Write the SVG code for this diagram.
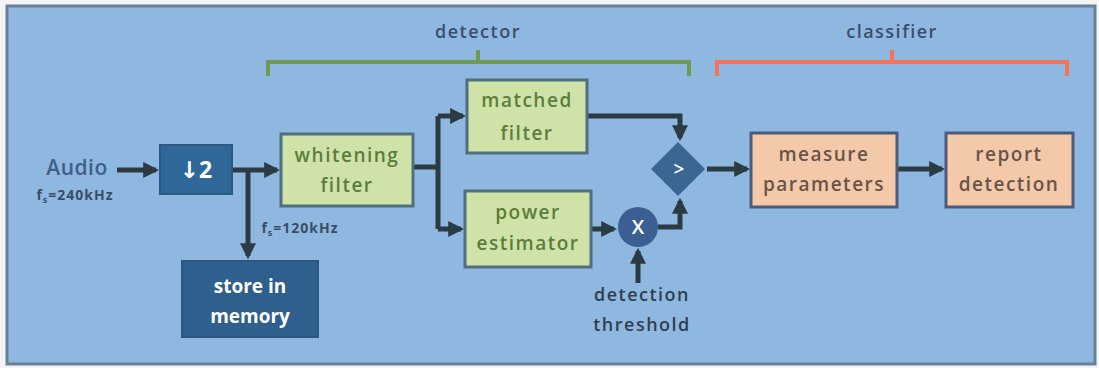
<svg xmlns="http://www.w3.org/2000/svg" width="1099" height="368" viewBox="0 0 1099 368">
<defs>
<style>
text{font-family:"Open Sans","DejaVu Sans",sans-serif;text-anchor:middle;font-weight:600}
.g rect{fill:#cfe3a8;stroke:#4f6f7f;stroke-width:3}
.o rect{fill:#f3c9a9;stroke:#4d5a7a;stroke-width:3}
.gt{font-size:19px;fill:#5b7e3a;letter-spacing:1.5px}
.ot{font-size:19px;fill:#6a5448;letter-spacing:1.5px}
.wt{font-size:19px;fill:#ffffff;font-weight:bold}
.lab{font-size:18px;fill:#3a4e6e;letter-spacing:1.5px}
.sm{font-size:14px;fill:#3a4e66;font-weight:bold;letter-spacing:1px}
.c{fill:none;stroke:#2c3a44;stroke-width:5}
</style>
<marker id="ah" viewBox="0 0 10 10" refX="8" refY="5" markerWidth="3.2" markerHeight="3.2" orient="auto" markerUnits="strokeWidth">
<path d="M0,0L10,5L0,10z" fill="#2c3a44"/>
</marker>
</defs>
<rect x="0" y="0" width="1099" height="368" fill="#f2f4f6"/>
<rect x="7" y="6" width="1088" height="358" fill="#8fb8e0" stroke="#6c7f98" stroke-width="3"/>

<g id="detector-bracket">
<path d="M268,76V62H689V76M478,62V50" fill="none" stroke="#6f9a52" stroke-width="4"/>
<text class="lab" x="478" y="38">detector</text>
</g>
<g id="classifier-bracket">
<path d="M717,76V62H1067V76M892,62V50" fill="none" stroke="#f2745a" stroke-width="4"/>
<text class="lab" x="892" y="38">classifier</text>
</g>

<g id="connectors">
<path class="c" d="M117,170H156" marker-end="url(#ah)"/>
<path class="c" d="M232,170H277" marker-end="url(#ah)"/>
<path class="c" d="M248,170V256" marker-end="url(#ah)"/>
<path class="c" d="M413,167H438M438,116V229"/>
<path class="c" d="M438,116H463" marker-end="url(#ah)"/>
<path class="c" d="M438,229H461" marker-end="url(#ah)"/>
<path class="c" d="M587,116H680V138" marker-end="url(#ah)"/>
<path class="c" d="M591,229H614" marker-end="url(#ah)"/>
<path class="c" d="M658,227H680V201" marker-end="url(#ah)"/>
<path class="c" d="M638,283V251" marker-end="url(#ah)"/>
<path class="c" d="M707,169H747" marker-end="url(#ah)"/>
<path class="c" d="M897,169H942" marker-end="url(#ah)"/>
</g>

<g id="audio">
<text x="77" y="175" style="font-size:21px;fill:#3f5f86;letter-spacing:0.5px">Audio</text>
<text x="75" y="200" class="sm">f<tspan font-size="9" dy="3">s</tspan><tspan dy="-3">=240kHz</tspan></text>
</g>
<g id="fs120">
<text x="300" y="233" class="sm">f<tspan font-size="9" dy="3">s</tspan><tspan dy="-3">=120kHz</tspan></text>
</g>

<g id="decimate">
<rect x="160" y="145" width="72" height="49" fill="#2f6898" stroke="#2a5a84" stroke-width="2"/>
<text x="196" y="178" style="font-size:23px;fill:#fff;font-weight:bold">↓2</text>
</g>
<g id="store">
<rect x="182" y="261" width="136" height="76" fill="#2f5f8c" stroke="#2c5680" stroke-width="2"/>
<text x="250" y="293" class="wt">store in</text>
<text x="250" y="323" class="wt">memory</text>
</g>
<g id="whitening" class="g">
<rect x="281" y="134" width="132" height="72"/>
<text x="347" y="162" class="gt">whitening</text>
<text x="347" y="192" class="gt">filter</text>
</g>
<g id="matched" class="g">
<rect x="467" y="80" width="120" height="73"/>
<text x="527" y="107" class="gt">matched</text>
<text x="527" y="140" class="gt">filter</text>
</g>
<g id="power" class="g">
<rect x="465" y="191" width="126" height="76"/>
<text x="528" y="219" class="gt">power</text>
<text x="528" y="250" class="gt">estimator</text>
</g>
<g id="compare">
<path d="M678,142L705,169L678,196L651,169z" fill="#3a6792"/>
<text x="679" y="176" style="font-size:19px;fill:#fff">&gt;</text>
</g>
<g id="multiply">
<circle cx="638" cy="227" r="20" fill="#3b5f92"/>
<text x="638" y="234" style="font-size:20px;fill:#fff">X</text>
</g>
<g id="threshold">
<text x="642" y="301" class="lab" style="fill:#2f3f4f">detection</text>
<text x="642" y="331" class="lab" style="fill:#2f3f4f">threshold</text>
</g>
<g id="measure" class="o">
<rect x="751" y="133" width="146" height="74"/>
<text x="824" y="161" class="ot">measure</text>
<text x="824" y="191" class="ot">parameters</text>
</g>
<g id="report" class="o">
<rect x="946" y="133" width="127" height="74"/>
<text x="1009" y="161" class="ot">report</text>
<text x="1009" y="191" class="ot">detection</text>
</g>
</svg>
